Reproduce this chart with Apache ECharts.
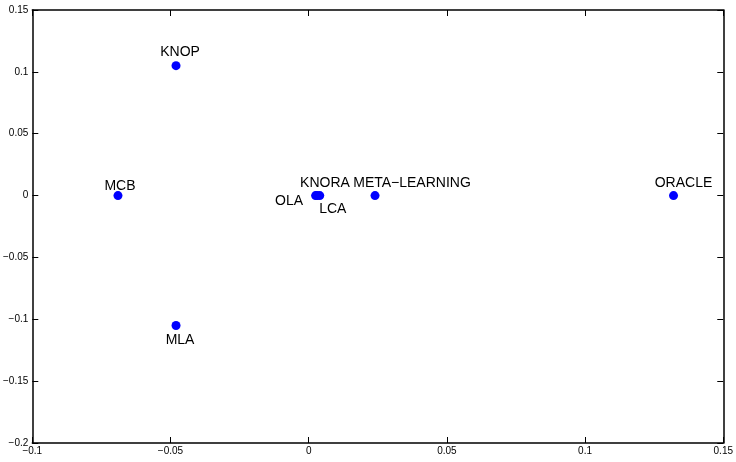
<!DOCTYPE html>
<html><head><meta charset="utf-8">
<script src="https://cdn.jsdelivr.net/npm/echarts@6/dist/echarts.min.js"></script>
<style>html,body{margin:0;padding:0;background:#fff}#c{width:736px;height:462px}</style>
</head><body><div id="c"></div>
<script>
const names = ['KNOP','MCB','MLA','OLA','KNORA','LCA','META\u2212LEARNING','ORACLE'];
const xs = [-0.048,-0.069,-0.048,0.0025,0.003,0.004,0.024,0.132];
const ys = [0.105,0,-0.105,0,0,0,0,0];
const xTicks = [-0.1,-0.05,0,0.05,0.1,0.15];
const yTicks = [-0.2,-0.15,-0.1,-0.05,0,0.05,0.1,0.15];

const labelCfg = {
  'KNOP': {position:'top', distance:2, offset:[4,0]},
  'MCB': {position:'top', distance:0, offset:[2,2]},
  'MLA': {position:'bottom', distance:3, offset:[4,0]},
  'OLA': {position:'left', distance:8, offset:[0,6]},
  'KNORA': {position:'top', distance:1, offset:[8,0]},
  'LCA': {position:'bottom', distance:2, offset:[13,0]},
  'META\u2212LEARNING': {position:'top', distance:1, offset:[37,0]},
  'ORACLE': {position:'top', distance:1, offset:[10,0]}
};
const data = names.map((n,i)=>({name:n, value:[xs[i],ys[i]],
  label:Object.assign({show:true, formatter:n}, labelCfg[n])}));

const fmt = v => String(v).replace('-', '\u2212');
const ax = {onZero:false,lineStyle:{color:'#000',width:1.5}};
const tk = {inside:true,length:6,lineStyle:{color:'#000',width:1}};
const lbl = {color:'#000',fontSize:10,fontFamily:'Liberation Sans, Arial, sans-serif',formatter:fmt};

const chart = echarts.init(document.getElementById('c'));
chart.setOption({
  animation:false,
  backgroundColor:'#fff',
  grid:{left:30,right:10,top:10,bottom:19,containLabel:false},
  xAxis:[
    {type:'value',min:-0.1,max:0.15,interval:0.05,position:'bottom',axisLine:ax,axisTick:tk,
     axisLabel:Object.assign({margin:3},lbl),splitLine:{show:false}},
    {type:'value',min:-0.1,max:0.15,interval:0.05,position:'top',axisLine:ax,axisTick:tk,
     axisLabel:{show:false},splitLine:{show:false}}
  ],
  yAxis:[
    {type:'value',min:-0.2,max:0.15,interval:0.05,position:'left',axisLine:ax,axisTick:tk,
     axisLabel:Object.assign({margin:4},lbl),splitLine:{show:false}},
    {type:'value',min:-0.2,max:0.15,interval:0.05,position:'right',axisLine:ax,axisTick:tk,
     axisLabel:{show:false},splitLine:{show:false}}
  ],
  series:[{
    type:'scatter',xAxisIndex:0,yAxisIndex:0,
    symbol:'circle',symbolSize:9,
    itemStyle:{color:'#0000ff',opacity:1},
    label:{show:true,color:'#000',fontSize:14,fontFamily:'Liberation Sans, Arial, sans-serif'},
    data:data
  }]
});
</script></body></html>
